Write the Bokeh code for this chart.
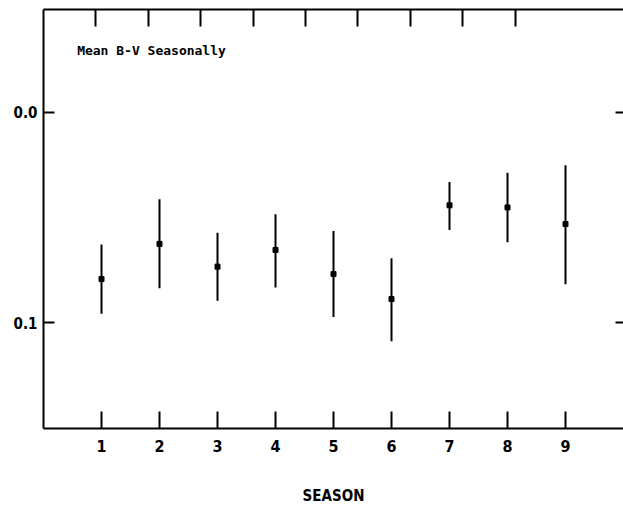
from bokeh.plotting import figure
from bokeh.models import Range1d, LinearAxis, FixedTicker, Label
from bokeh.embed import file_html
from bokeh.resources import INLINE

seasons = [1, 2, 3, 4, 5, 6, 7, 8, 9]
mean_bv = [0.0792, 0.0625, 0.0733, 0.0654, 0.0768, 0.0887, 0.0442, 0.0452, 0.0531]
bv_low = [0.0628, 0.0413, 0.0572, 0.0484, 0.0564, 0.0693, 0.0331, 0.0288, 0.0252]
bv_high = [0.0956, 0.0835, 0.0895, 0.0832, 0.0972, 0.1087, 0.0559, 0.0617, 0.0816]
y_ticks = [0.0, 0.1]
y_tick_labels = {0.0: "0.0", 0.1: "0.1"}
top_ticks = [1, 2, 3, 4, 5, 6, 7, 8, 9]

FONT = "DejaVu Sans Condensed"

p = figure(width=623, height=507, output_backend="svg", toolbar_location=None,
           x_range=Range1d(0, 10), y_range=Range1d(0.1501, -0.0487),
           x_axis_location=None, y_axis_location=None,
           min_border_left=43, min_border_right=0, min_border_top=9, min_border_bottom=78)
p.grid.visible = False
p.outline_line_color = None
p.background_fill_color = "white"
p.border_fill_color = "white"

# bottom axis
xb = LinearAxis(ticker=FixedTicker(ticks=seasons), axis_label="SEASON")
xb.axis_line_color = "black"
xb.axis_line_width = 2
xb.major_tick_in = 17
xb.major_tick_out = 0
xb.major_tick_line_width = 2
xb.minor_tick_line_color = None
xb.major_label_standoff = 11
xb.major_label_text_font = FONT
xb.major_label_text_font_style = "bold"
xb.major_label_text_font_size = "16px"
xb.major_label_text_color = "black"
xb.axis_label_standoff = 32
xb.axis_label_text_font = FONT
xb.axis_label_text_font_style = "bold"
xb.axis_label_text_font_size = "15px"
xb.axis_label_text_color = "black"
p.add_layout(xb, "below")

# top axis (different spacing)
p.extra_x_ranges = {"top": Range1d(0, 11.07)}
xt = LinearAxis(x_range_name="top", ticker=FixedTicker(ticks=top_ticks))
xt.axis_line_color = "black"
xt.axis_line_width = 2
xt.major_tick_in = 17
xt.major_tick_out = 0
xt.major_tick_line_width = 2
xt.minor_tick_line_color = None
xt.major_label_text_color = None
xt.major_label_standoff = 0
p.add_layout(xt, "above")

# left axis
yl = LinearAxis(ticker=FixedTicker(ticks=y_ticks))
yl.major_label_overrides = y_tick_labels
yl.axis_line_color = "black"
yl.axis_line_width = 2
yl.major_tick_in = 11
yl.major_tick_out = 0
yl.major_tick_line_width = 2
yl.minor_tick_line_color = None
yl.major_label_standoff = 6
yl.major_label_text_font = FONT
yl.major_label_text_font_style = "bold"
yl.major_label_text_font_size = "15px"
yl.major_label_text_color = "black"
p.add_layout(yl, "left")

# right axis (border beyond the picture; only ticks visible)
yr = LinearAxis(ticker=FixedTicker(ticks=y_ticks))
yr.axis_line_color = None
yr.major_tick_in = 8
yr.major_tick_out = 0
yr.major_tick_line_width = 2
yr.minor_tick_line_color = None
yr.major_label_text_color = None
yr.major_label_standoff = 0
p.add_layout(yr, "right")

# error bars and points
p.segment(x0=seasons, y0=bv_low, x1=seasons, y1=bv_high, line_color="black", line_width=2)
p.scatter(x=seasons, y=mean_bv, marker="square", size=5, fill_color="black", line_color="black")

title = Label(x=0.58, y=-0.0293, text="Mean B-V Seasonally", text_font="DejaVu Sans Mono",
              text_font_style="bold", text_font_size="13px", text_baseline="middle",
              text_color="black")
p.add_layout(title)

open("out.html", "w").write(file_html(p, INLINE))
